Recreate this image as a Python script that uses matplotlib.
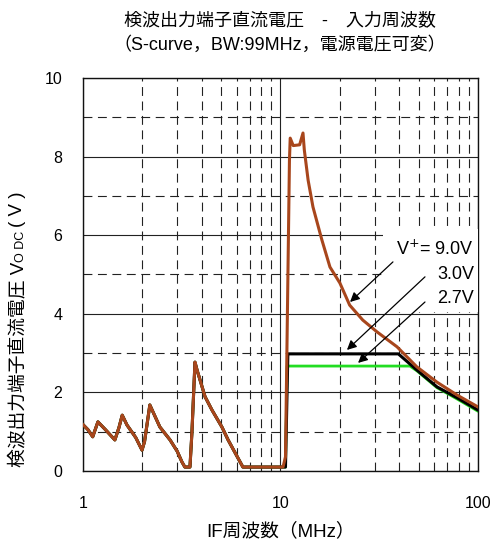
"""S-curve: detector output DC voltage vs IF frequency, three supply voltages."""
import matplotlib
matplotlib.use("Agg")
import matplotlib.pyplot as plt
from matplotlib.patches import Rectangle
from matplotlib.ticker import FixedLocator, NullFormatter

plt.rcParams["font.family"] = ["Liberation Sans", "Noto Sans CJK JP", "DejaVu Sans"]

# low-frequency part, shared by all three supply voltages (MHz, V)
low_f = [1.0, 1.06, 1.12, 1.19, 1.3, 1.45, 1.52, 1.58, 1.67, 1.85, 1.99, 2.05,
         2.18, 2.45, 2.76, 3.0, 3.17, 3.28, 3.48, 3.56, 3.69, 3.78, 4.15, 4.5,
         5.05, 5.43, 6.45, 10.3]
low_v = [1.18, 1.05, 0.87, 1.25, 1.05, 0.79, 1.1, 1.42, 1.17, 0.85, 0.53, 0.75,
         1.68, 1.12, 0.79, 0.5, 0.23, 0.1, 0.1, 0.97, 2.77, 2.57, 1.89, 1.55,
         1.12, 0.79, 0.1, 0.1]

# V+ = 9.0 V, above 10 MHz
hi9_f = [10.6, 10.8, 11.1, 11.2, 11.6, 12.5, 13.0, 13.2, 13.8, 14.6, 16.2,
         17.8, 20.0, 22.4, 26.1, 30.8, 38.9, 49.0, 62.0, 78.5, 100.0]
hi9_v = [0.36, 3.4, 7.9, 8.47, 8.28, 8.3, 8.6, 8.17, 7.4, 6.72, 5.88,
         5.19, 4.78, 4.22, 3.84, 3.54, 3.16, 2.65, 2.26, 1.93, 1.63]

# V+ = 3.0 V
hi3_f = [10.6, 10.9, 39.5, 49.0, 62.0, 78.5, 100.0]
hi3_v = [0.1, 2.98, 2.98, 2.57, 2.14, 1.86, 1.55]

# V+ = 2.7 V
hi27_f = [10.6, 10.8, 45.2, 49.0, 62.0, 78.5, 100.0]
hi27_v = [0.1, 2.67, 2.67, 2.55, 2.12, 1.83, 1.52]

labels = ["V$^{+}$= 9.0V", "3.0V", "2.7V"]
label_y = [5.65, 5.0, 4.38]
arrow_from = [(37.1, 5.32), (53.9, 4.94), (53.9, 4.30)]
arrow_to = [(22.5, 4.30), (21.7, 3.08), (24.7, 2.75)]

fig = plt.figure(figsize=(4.94, 5.45), dpi=100)
ax = fig.add_axes([0.168, 0.1358, 0.7996, 0.7211])
ax.set_xscale("log")
ax.set_xlim(1, 100)
ax.set_ylim(0, 10)

# grid: solid at majors, dashed at minors
ax.xaxis.set_minor_locator(FixedLocator([m * d for d in (1, 10) for m in range(2, 10)]))
ax.xaxis.set_minor_formatter(NullFormatter())
ax.set_xticks([1, 10, 100], ["1", "10", "100"])
ax.set_yticks([0, 2, 4, 6, 8, 10])
ax.yaxis.set_minor_locator(FixedLocator([1, 3, 5, 7, 9]))
ax.grid(True, which="major", color="#222222", lw=0.8)
ax.grid(True, which="minor", color="#222222", lw=0.8, ls=(0, (8, 5)))
ax.tick_params(which="both", length=0)
ax.tick_params(axis="y", pad=15, labelsize=11.5)
ax.tick_params(axis="x", pad=18, labelsize=11.5)
for s in ax.spines.values():
    s.set_color("#111111")
    s.set_linewidth(1.0)
ax.set_axisbelow(True)

ax.plot(low_f + hi27_f, low_v + hi27_v, color="#22dd22", lw=2.0, zorder=3)
ax.plot(low_f + hi3_f, low_v + hi3_v, color="black", lw=2.2, zorder=4)
ax.plot(low_f + hi9_f, low_v + hi9_v, color="#a8461c", lw=2.2, zorder=5)

# white label box hiding the grid, then labels and arrows
ax.add_patch(Rectangle((33, 4.05), 67, 2.1, facecolor="white", edgecolor="none", zorder=6))
for s, y in zip(labels, label_y):
    ax.text(95.5, y, s, ha="right", va="center", fontsize=13, zorder=7)
for p0, p1 in zip(arrow_from, arrow_to):
    ax.annotate("", xy=p1, xytext=p0, zorder=8,
                arrowprops=dict(arrowstyle="-|>", color="black", lw=0.9,
                                mutation_scale=14, shrinkA=0, shrinkB=0))

ax.set_xlabel("IF周波数（MHz）", fontsize=13.5, labelpad=8)

# y label built from pieces so the small "O DC" keeps the CJK fallback
fig.canvas.draw()
rend = fig.canvas.get_renderer()
y = 1 - 467 / 545
for s, fs, px in [("検波出力端子直流電圧 V", 13.5, 18), ("O DC ", 9, 21), ("( V )", 13.5, 18)]:
    t = fig.text(px / 494, y, s, rotation=90, ha="center", va="bottom", fontsize=fs)
    bb = t.get_window_extent(rend).transformed(fig.transFigure.inverted())
    y = bb.y1

fig.text(0.567, 0.962, "検波出力端子直流電圧　-　入力周波数", ha="center", va="center", fontsize=13)
fig.text(0.567, 0.917, "（S-curve，BW:99MHz，電源電圧可変）", ha="center", va="center", fontsize=13)

fig.savefig("out.png", dpi=100)
